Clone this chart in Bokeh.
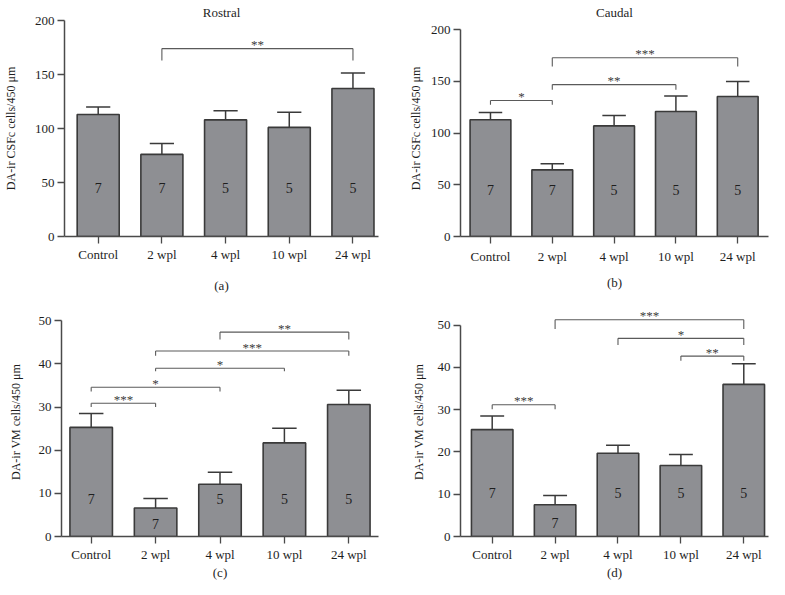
import numpy as np
from bokeh.plotting import figure
from bokeh.models import Range1d, FixedTicker, ColumnDataSource
from bokeh.layouts import column, row
from bokeh.core.properties import value
from bokeh.embed import file_html
from bokeh.resources import INLINE

# ---------------- data ----------------
categories = ["Control", "2 wpl", "4 wpl", "10 wpl", "24 wpl"]
n_animals = [7, 7, 5, 5, 5]

rostral_mean = [113, 76, 108, 101, 137]
rostral_sem = [7, 10, 8.5, 14, 14.5]
caudal_mean = [113, 64.5, 107, 121, 135.5]
caudal_sem = [7, 6, 10, 15, 14.5]
vm_c_mean = [25.3, 6.6, 12.1, 21.7, 30.6]
vm_c_sem = [3.2, 2.2, 2.8, 3.4, 3.3]
vm_d_mean = [25.3, 7.5, 19.7, 16.8, 36.0]
vm_d_sem = [3.2, 2.2, 1.9, 2.6, 4.9]

# significance brackets: left group, right group, bracket level, tick end, stars
br_a_left, br_a_right, br_a_level, br_a_low, br_a_text = [1], [4], [174], [163], ["**"]
br_b_left = [0, 1, 1]
br_b_right = [1, 3, 4]
br_b_level = [131.6, 147, 173]
br_b_low = [127.4, 142, 164.5]
br_b_text = ["*", "**", "***"]
br_c_left = [0, 0, 1, 1, 2]
br_c_right = [1, 2, 3, 4, 4]
br_c_level = [30.9, 34.6, 39.0, 43.0, 47.4]
br_c_low = [30.0, 33.6, 38.3, 41.9, 45.7]
br_c_text = ["***", "*", "*", "***", "**"]
br_d_left = [0, 1, 2, 3]
br_d_right = [1, 4, 4, 4]
br_d_level = [31.2, 51.3, 46.9, 42.7]
br_d_low = [30.1, 49.1, 45.3, 41.6]
br_d_text = ["***", "***", "*", "**"]

FONT = "Liberation Serif"
BAR_FILL = "#8e8f93"
BAR_LINE = "#3a3a3a"
AXIS_COL = "#4a4a4a"
TEXT_COL = "#1e1e1e"


def make_panel(mean, sem, left, right, level, low, stars, *, title, title_offset,
               sub, ylabel, ymax, ystep, yend, xs, xe, w, h, bl, br, bt, bb,
               n_level, ylab_standoff, xlab_standoff, xtick_standoff=3):
    p = figure(width=w, height=h, output_backend="svg", toolbar_location=None,
               x_range=Range1d(xs, xe), y_range=Range1d(0, yend),
               min_border_left=bl, min_border_right=br,
               min_border_top=bt, min_border_bottom=bb)
    p.outline_line_color = None
    p.grid.visible = False
    p.background_fill_color = "white"
    p.border_fill_color = "white"

    if title:
        p.title.text = title
        p.title.align = "center"
        p.title.text_font = FONT
        p.title.text_font_style = "normal"
        p.title.text_font_size = "13px"
        p.title.text_color = TEXT_COL
        p.title.standoff = 2
        p.title.offset = title_offset

    idx = list(range(len(categories)))
    mean_a = np.array(mean, dtype=float)
    sem_a = np.array(sem, dtype=float)
    ny = np.where(mean_a > 1.2 * n_level, n_level, 0.43 * mean_a)

    src = ColumnDataSource(dict(x=idx, top=mean_a, err=mean_a + sem_a,
                                cl=np.array(idx) - 0.19, cr=np.array(idx) + 0.19,
                                ny=ny, nt=[str(v) for v in n_animals]))
    p.vbar(x="x", top="top", width=0.66, bottom=0, source=src,
           fill_color=BAR_FILL, line_color=BAR_LINE, line_width=1.6)
    p.segment(x0="x", y0="top", x1="x", y1="err", source=src,
              line_color=BAR_LINE, line_width=1.5)
    p.segment(x0="cl", y0="err", x1="cr", y1="err", source=src,
              line_color=BAR_LINE, line_width=1.5)
    p.text(x="x", y="ny", text="nt", source=src, text_align="center",
           text_baseline="middle", text_font=value(FONT), text_font_size="14px",
           text_color=TEXT_COL)

    # brackets
    bsrc = ColumnDataSource(dict(l=left, r=right, y=level, lo=low, t=stars,
                                 m=[(a + b) / 2 for a, b in zip(left, right)]))
    bc = "#5a5a5a"
    p.segment(x0="l", y0="y", x1="r", y1="y", source=bsrc, line_color=bc, line_width=1.1)
    p.segment(x0="l", y0="y", x1="l", y1="lo", source=bsrc, line_color=bc, line_width=1.1)
    p.segment(x0="r", y0="y", x1="r", y1="lo", source=bsrc, line_color=bc, line_width=1.1)
    p.text(x="m", y="y", text="t", source=bsrc, text_align="center",
           text_baseline="middle", y_offset=-4, text_font=value(FONT),
           text_font_size="13px", text_color="#3c3c3c")

    # axes
    ya = p.yaxis[0]
    ya.ticker = FixedTicker(ticks=list(np.arange(0, ymax + ystep / 2, ystep)))
    ya.bounds = (0, ymax)
    xa = p.xaxis[0]
    xa.ticker = FixedTicker(ticks=idx)
    xa.major_label_overrides = {i: c for i, c in enumerate(categories)}
    for ax in (xa, ya):
        ax.axis_line_color = AXIS_COL
        ax.axis_line_width = 1.5
        ax.major_tick_line_color = AXIS_COL
        ax.major_tick_line_width = 1.3
        ax.major_tick_out = 7
        ax.major_tick_in = 0
        ax.minor_tick_line_color = None
        ax.major_label_text_font = FONT
        ax.major_label_text_font_size = "13px"
        ax.major_label_text_color = TEXT_COL
        ax.major_label_standoff = 3
        ax.axis_label_text_font = FONT
        ax.axis_label_text_font_style = "normal"
        ax.axis_label_text_color = TEXT_COL
    xa.major_label_standoff = xtick_standoff
    xa.axis_label = sub
    xa.axis_label_text_font_size = "13px"
    xa.axis_label_standoff = xlab_standoff
    ya.axis_label = ylabel
    ya.axis_label_text_font_size = "12px"
    ya.axis_label_standoff = ylab_standoff
    return p


pa = make_panel(rostral_mean, rostral_sem, br_a_left, br_a_right, br_a_level, br_a_low, br_a_text,
                title="Rostral", title_offset=-3,
                sub="(a)", ylabel="DA-ir CSFc cells/450 μm",
                ymax=200, ystep=50, yend=200, xs=-0.529, xe=4.401,
                w=395, h=298, bl=61, br=17, bt=20, bb=62,
                n_level=45, ylab_standoff=14, xlab_standoff=13)
pb = make_panel(caudal_mean, caudal_sem, br_b_left, br_b_right, br_b_level, br_b_low, br_b_text,
                title="Caudal", title_offset=-9,
                sub="(b)", ylabel="DA-ir CSFc cells/450 μm",
                ymax=200, ystep=50, yend=209, xs=-0.485, xe=4.498,
                w=389, h=298, bl=65, br=16, bt=20, bb=62,
                n_level=45, ylab_standoff=5, xlab_standoff=8, xtick_standoff=5)
pc = make_panel(vm_c_mean, vm_c_sem, br_c_left, br_c_right, br_c_level, br_c_low, br_c_text,
                title=None, title_offset=0,
                sub="(c)", ylabel="DA-ir VM cells/450 μm",
                ymax=50, ystep=10, yend=53.1, xs=-0.461, xe=4.461,
                w=395, h=296, bl=61, br=17, bt=9, bb=58,
                n_level=8.65, ylab_standoff=13, xlab_standoff=0)
pd_ = make_panel(vm_d_mean, vm_d_sem, br_d_left, br_d_right, br_d_level, br_d_low, br_d_text,
                 title=None, title_offset=0,
                 sub="(d)", ylabel="DA-ir VM cells/450 μm",
                 ymax=50, ystep=10, yend=54.2, xs=-0.504, xe=4.393,
                 w=389, h=296, bl=65, br=16, bt=9, bb=58,
                 n_level=10.4, ylab_standoff=9, xlab_standoff=0)

layout = column(row(pa, pb), row(pc, pd_))

open("out.html", "w").write(file_html(layout, INLINE))
